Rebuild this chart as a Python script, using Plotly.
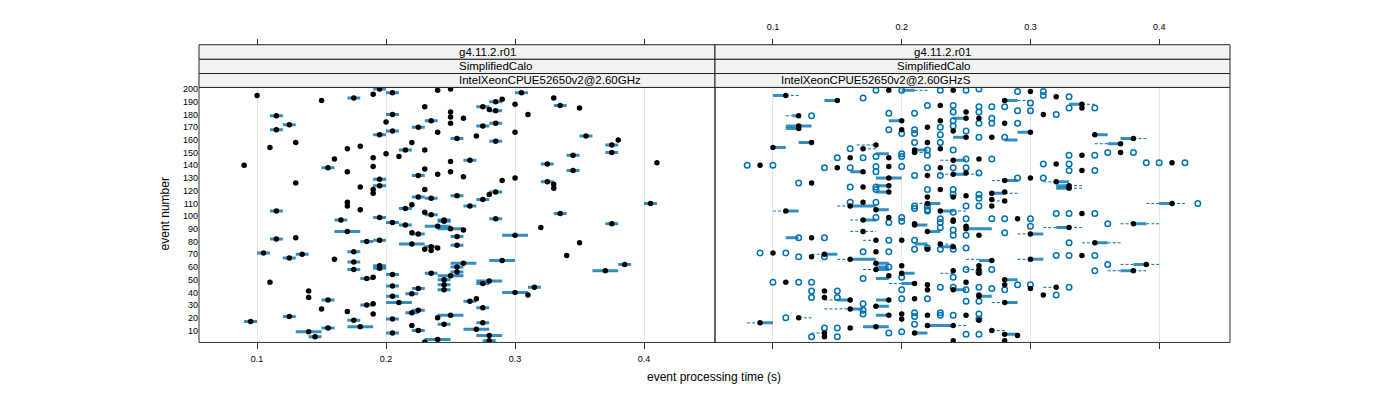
import plotly.graph_objects as go

# ---------------- left panel: IntelXeonCPUE52650v2@2.60GHz ----------------
# event number, mean processing time (s), half width of the blue bar (0 = none)
left_event = [195, 191, 193, 196, 200, 197, 199, 179, 172, 168, 158, 154, 180, 186, 174, 175, 170, 167, 166, 164,
              158, 155, 153, 152, 147, 152, 149, 146, 145, 140, 138, 139, 135, 137, 133, 132, 126, 129, 124, 123,
              121, 118, 121, 115, 114, 111, 108, 109, 106, 105, 104, 103, 101, 97, 99,
              200, 197, 193, 190, 192, 186, 184, 183, 188, 187, 185, 180, 182, 178, 177, 173, 173, 171, 166, 163,
              161, 163, 159, 160, 156, 150, 148, 143, 144, 141, 142, 136, 135, 131, 128, 130, 127, 125, 122, 116,
              117, 119, 113, 108, 110, 102, 97, 98,
              95, 93, 87, 86, 88, 82, 83, 80, 81, 78, 71, 67, 70, 66, 72, 64, 58, 61, 59, 74,
              76, 73, 75, 48, 51, 52, 54, 55, 45, 39, 43, 41, 36, 34, 37, 32, 27, 25, 30, 31,
              23, 24, 26, 17, 21, 18, 19, 20, 9, 5, 12, 13, 14, 10, 8, 1,
              96, 94, 92, 90, 89, 91, 85, 84, 77, 79, 69, 63, 65, 60, 56, 53, 62, 57, 50, 46,
              42, 49, 47, 44, 40, 38, 35, 33, 28, 22, 15, 16, 11, 3, 6, 2]
left_time = [0.100, 0.150, 0.175, 0.190, 0.195, 0.205, 0.240, 0.115, 0.125, 0.115, 0.130, 0.110, 0.205, 0.230, 0.200, 0.235, 0.225, 0.205, 0.240, 0.195,
             0.220, 0.180, 0.170, 0.215, 0.210, 0.230, 0.200, 0.190, 0.160, 0.090, 0.155, 0.190, 0.170, 0.230, 0.240, 0.225, 0.130, 0.195, 0.195, 0.180,
             0.190, 0.190, 0.230, 0.225, 0.235, 0.170, 0.170, 0.220, 0.215, 0.180, 0.115, 0.230, 0.235, 0.165, 0.195,
             0.250, 0.305, 0.330, 0.285, 0.290, 0.275, 0.280, 0.285, 0.300, 0.335, 0.350, 0.310, 0.250, 0.250, 0.260, 0.250, 0.285, 0.275, 0.300, 0.355,
             0.255, 0.270, 0.285, 0.380, 0.375, 0.375, 0.345, 0.250, 0.265, 0.325, 0.410, 0.345, 0.250, 0.260, 0.290, 0.300, 0.325, 0.330, 0.330, 0.255,
             0.280, 0.285, 0.275, 0.265, 0.405, 0.335, 0.245, 0.285,
             0.205, 0.215, 0.220, 0.225, 0.170, 0.115, 0.130, 0.185, 0.195, 0.220, 0.105, 0.125, 0.135, 0.160, 0.175, 0.175, 0.175, 0.195, 0.195, 0.230,
             0.235, 0.235, 0.240, 0.110, 0.185, 0.190, 0.205, 0.235, 0.205, 0.220, 0.225, 0.140, 0.140, 0.155, 0.205, 0.210, 0.150, 0.170, 0.185, 0.190,
             0.190, 0.220, 0.225, 0.095, 0.125, 0.175, 0.205, 0.240, 0.140, 0.145, 0.155, 0.180, 0.220, 0.225, 0.205, 0.230,
             0.245, 0.375, 0.240, 0.250, 0.260, 0.320, 0.300, 0.255, 0.255, 0.350, 0.340, 0.260, 0.290, 0.255, 0.255, 0.250, 0.385, 0.370, 0.245, 0.245,
             0.245, 0.280, 0.275, 0.315, 0.300, 0.310, 0.270, 0.265, 0.275, 0.250, 0.245, 0.275, 0.270, 0.240, 0.280, 0.280]
left_half = [0, 0, .005, 0, .005, .005, 0, .005, .005, .005, 0, 0, .005, 0, 0, .005, .005, .005, 0, .005,
             0, 0, 0, .005, 0, 0, 0, 0, 0, 0, .005, 0, 0, 0, 0, .005, 0, .005, .005, 0,
             0, 0, 0, .005, .005, 0, 0, 0, .005, 0, .005, 0, .005, .005, .005,
             0, .005, 0, .005, 0, .005, 0, .005, 0, .005, 0, 0, 0, 0, 0, 0, .005, .005, 0, .005,
             .005, 0, .005, 0, .005, .005, .005, 0, .005, .005, 0, .005, 0, 0, 0, 0, .005, 0, 0, .005,
             0, .005, .005, .005, .005, .005, .005, .005,
             .005, .005, 0, .005, .010, .005, 0, .005, .005, .010, .005, .005, .005, 0, .005, .005, .005, .005, .005, 0,
             .005, 0, 0, 0, .005, 0, .005, .005, .005, .005, .005, 0, 0, .005, .005, .010, 0, 0, .005, 0,
             0, .005, .005, .005, .005, .005, .005, 0, .010, .005, .005, .010, 0, .005, .005, 0,
             .005, .005, .010, .010, 0, 0, .010, .005, .005, 0, 0, .010, .010, .005, .005, .010, .005, .010, .005, .005,
             .005, .010, .005, .005, .010, 0, 0, .005, .005, .010, .005, .005, .010, .010, .010, .005]

# ---------------- right panel: IntelXeonCPUE52650v2@2.60GHzS ----------------
# medians (black dots)
med_event = [195, 191, 179, 171, 169, 158, 154, 153, 156, 146, 140, 138, 135, 126, 123, 111, 108, 104, 105,
             194, 188, 185, 180, 164, 161, 157, 150, 148, 141, 142, 136, 127, 124, 122, 110, 102,
             97, 88, 83, 81, 71, 68, 70, 66, 72, 58, 63, 48, 41, 36, 34, 27, 29, 20, 16, 12, 13, 5, 8,
             91, 94, 79, 69, 62, 57, 44, 38,
             199, 199, 198, 191, 187, 182, 177, 177, 175, 175, 173, 170, 168, 167, 166, 162, 162, 158, 152, 153,
             150, 146, 144, 145, 139, 138, 132, 133, 134, 130, 128, 130, 124, 119, 121, 118, 119, 115, 115, 116,
             113, 112, 110, 108, 104, 99, 94, 93, 97, 96, 92, 98, 88, 90, 85, 86, 81, 78, 76, 74,
             65, 66, 61, 61, 58, 53, 55, 57, 55, 50, 43, 47, 46, 48, 46, 42, 42, 38, 34, 35,
             37, 32, 22, 23, 19, 22, 22, 14, 14, 18, 8, 10, 7, 6, 2, 2]
med_time = [.11, .15, .12, .12, .12, .13, .10, .17, .18, .16, .09, .15, .17, .13, .17, .17, .16, .11, .18,
            .32, .34, .34, .31, .35, .38, .37, .37, .34, .32, .41, .34, .32, .33, .33, .41, .34,
            .17, .17, .13, .18, .10, .13, .14, .16, .18, .18, .18, .11, .14, .14, .16, .16, .18, .12, .09, .16, .18, .14, .14,
            .33, .38, .35, .34, .39, .38, .32, .31,
            .19, .24, .30, .28, .23, .25, .25, .26, .20, .23, .28, .22, .20, .24, .30, .25, .27, .22, .21, .23,
            .21, .19, .24, .26, .19, .23, .22, .24, .25, .19, .28, .30, .19, .19, .23, .27, .28, .22, .24, .25,
            .27, .28, .22, .27, .23, .19, .21, .21, .24, .24, .25, .29, .22, .25, .26, .30, .20, .23, .24, .22,
            .27, .30, .20, .26, .26, .19, .20, .24, .26, .28, .30, .21, .22, .25, .28, .22, .24, .26, .19, .21,
            .26, .28, .19, .20, .20, .22, .25, .22, .24, .26, .21, .27, .28, .29, .24, .28]

# boxes (solid blue)
box_event = [195, 191, 179, 171, 169, 158, 154, 135, 108, 104, 105,
             188, 164, 161, 157, 127, 124, 122, 110,
             97, 83, 70, 66, 58, 63, 51, 34, 27, 29, 16, 13,
             91, 94, 79, 62, 57, 86,
             199, 191, 177, 175, 166, 162, 160, 152, 149, 144, 133, 130, 128, 124, 119, 118, 110, 104, 93, 88,
             90, 78, 76, 65, 66, 60, 55, 50, 47, 42, 37, 32, 34, 22, 14, 8, 7]
box_lo = [.10, .14, .115, .11, .11, .12, .10, .16, .16, .11, .18,
          .33, .35, .37, .36, .32, .32, .32, .40,
          .17, .11, .14, .16, .18, .18, .18, .15, .16, .18, .09, .17,
          .32, .38, .35, .38, .37, .30,
          .20, .28, .24, .19, .29, .24, .28, .21, .18, .24, .24, .18, .28, .18, .18, .27, .22, .23, .21, .22,
          .25, .21, .23, .26, .30, .18, .20, .28, .20, .24, .26, .28, .18, .18, .22, .21, .28]
box_hi = [.11, .15, .12, .13, .12, .13, .11, .17, .18, .12, .19,
          .34, .36, .38, .37, .33, .33, .33, .41,
          .18, .12, .15, .18, .19, .19, .19, .16, .17, .19, .10, .19,
          .33, .39, .36, .39, .38, .31,
          .21, .29, .25, .20, .30, .25, .29, .22, .19, .25, .25, .20, .29, .19, .19, .28, .23, .24, .22, .23,
          .27, .22, .24, .27, .31, .19, .21, .29, .21, .25, .27, .29, .19, .19, .24, .22, .29]

# whiskers (dashed blue)
whisk_event = [195, 179, 153, 156, 108, 104,
               188, 161, 157, 127, 124, 122, 110, 110,
               97, 88, 81, 70, 66, 58, 34, 27, 20, 16, 8,
               91, 91, 94, 94, 79, 79, 62, 62, 57, 57, 44,
               199, 191, 150, 144, 133, 133, 128, 118, 112, 110, 104, 86, 78, 66, 66, 58, 55, 47, 32, 14, 10]
whisk_lo = [.11, .11, .17, .165, .15, .10,
            .34, .38, .35, .31, .33, .33, .39, .41,
            .16, .16, .17, .13, .15, .17, .14, .14, .12, .08, .13,
            .31, .33, .37, .39, .34, .36, .37, .39, .36, .38, .31,
            .21, .29, .21, .23, .23, .25, .27, .28, .27, .21, .24, .29, .23, .25, .29, .25, .23, .19, .27, .24, .27]
whisk_hi = [.12, .115, .18, .18, .16, .11,
            .35, .39, .36, .32, .34, .34, .40, .42,
            .17, .18, .18, .14, .16, .18, .15, .16, .13, .09, .14,
            .32, .34, .38, .40, .35, .37, .38, .40, .37, .39, .32,
            .22, .30, .22, .24, .24, .26, .28, .29, .28, .22, .25, .30, .24, .26, .30, .26, .24, .20, .28, .25, .28]

# outliers (open blue circles)
out_event = [199, 193, 179, 153, 146, 146, 147, 140, 140, 138, 138, 139, 135, 126, 123, 123, 121, 111, 111,
             198, 195, 194, 185, 185, 180, 150, 150, 148, 148, 141, 141, 142, 142, 142, 136, 136, 130, 110, 102,
             102, 102,
             99, 83, 83, 71, 71, 68, 68, 72, 51, 48, 48, 48, 41, 41, 36, 36, 31, 23, 26, 20, 12, 12, 5, 5,
             94, 79, 69, 69, 69, 62, 57, 44, 38,
             199, 199, 199, 200, 198, 189, 187, 187, 186, 186, 186, 183, 183, 181, 181, 182, 182, 177, 175, 173,
             173, 173, 170, 171, 168, 168, 167, 165, 165, 164, 162, 162, 158, 158, 152, 152, 149, 147, 148, 145,
             145, 139, 138, 138, 138, 132, 132, 134, 130, 121, 121, 117, 117, 114, 108, 106, 108, 105, 108, 108,
             103, 104, 99, 95, 96, 98, 95, 98, 98, 98, 98, 92, 91, 89, 85, 85, 87, 81, 81, 75,
             74, 74, 75, 74, 72, 60, 58, 58, 56, 52, 52, 46, 46, 44, 44, 44, 42, 42, 43, 42,
             35, 35, 33, 33, 24, 24, 22, 22, 21, 23, 15, 19, 8, 9, 7, 7]
out_time = [.18, .17, .13, .16, .15, .17, .18, .08, .10, .14, .16, .18, .18, .12, .16, .18, .18, .16, .18,
            .31, .31, .33, .33, .35, .32, .36, .38, .33, .35, .31, .33, .39, .40, .42, .33, .35, .31, .43, .32,
            .33, .35,
            .18, .12, .14, .09, .11, .12, .14, .17, .17, .10, .12, .13, .13, .15, .13, .15, .17, .17, .17, .11, .14, .15, .13, .15,
            .36, .33, .32, .33, .35, .36, .35, .33, .32,
            .20, .23, .25, .26, .29, .30, .22, .24, .26, .27, .28, .29, .30, .19, .21, .24, .26, .27, .24, .26,
            .27, .29, .23, .24, .19, .21, .25, .20, .21, .23, .26, .28, .21, .23, .22, .24, .20, .20, .22, .25,
            .27, .20, .22, .24, .25, .21, .23, .26, .29, .22, .24, .24, .26, .26, .21, .21, .22, .22, .25, .26,
            .24, .22, .20, .19, .20, .23, .23, .25, .27, .28, .30, .30, .23, .24, .24, .25, .28, .19, .21, .22,
            .23, .24, .25, .21, .19, .19, .25, .27, .26, .20, .24, .29, .30, .23, .24, .26, .20, .25, .27, .28,
            .20, .22, .25, .26, .21, .23, .23, .24, .21, .26, .21, .26, .19, .20, .25, .26]

tick_vals = [0.1, 0.2, 0.3, 0.4]
event_ticks = list(range(10, 201, 10))
strip_labels_left = ["g4.11.2.r01", "SimplifiedCalo", "IntelXeonCPUE52650v2@2.60GHz"]
strip_labels_right = ["g4.11.2.r01", "SimplifiedCalo", "IntelXeonCPUE52650v2@2.60GHzS"]

BLUE = '#0072B2'
FONT = 'Liberation Sans, Arial, sans-serif'
# the page body has an 8px margin, so the figure is a bit smaller and positions are shifted
OFF = 8
W, H = 1400 - OFF, 400 - OFF


def px(x):
    return (x - OFF) / W


def py(y):
    return 1 - (y - OFF) / H


def segments(ev, lo, hi):
    xs, ys = [], []
    for e, a, b in zip(ev, lo, hi):
        xs += [a, b, None]
        ys += [e, e, None]
    return xs, ys


fig = go.Figure()

# left panel bars + dots
bl, bh, be = [], [], []
for e, t, h in zip(left_event, left_time, left_half):
    if h > 0:
        be.append(e)
        bl.append(t - h)
        bh.append(t + h)
sx, sy = segments(be, bl, bh)
fig.add_trace(go.Scatter(x=sx, y=sy, mode='lines', xaxis='x', yaxis='y',
                         line=dict(color='rgba(0,114,178,0.8)', width=3)))
fig.add_trace(go.Scatter(x=left_time, y=left_event, mode='markers', xaxis='x', yaxis='y',
                         marker=dict(color='black', size=5.5)))

# right panel
sx, sy = segments(whisk_event, whisk_lo, whisk_hi)
fig.add_trace(go.Scatter(x=sx, y=sy, mode='lines', xaxis='x2', yaxis='y',
                         line=dict(color=BLUE, width=1, dash='3px,2px')))
sx, sy = segments(box_event, box_lo, box_hi)
fig.add_trace(go.Scatter(x=sx, y=sy, mode='lines', xaxis='x2', yaxis='y',
                         line=dict(color='rgba(0,114,178,0.8)', width=3)))
fig.add_trace(go.Scatter(x=out_time, y=out_event, mode='markers', xaxis='x2', yaxis='y',
                         marker=dict(symbol='circle-open', color=BLUE, size=5.5, line=dict(width=1.5))))
fig.add_trace(go.Scatter(x=med_time, y=med_event, mode='markers', xaxis='x2', yaxis='y',
                         marker=dict(color='black', size=5.5)))

# dummy traces so the top axes exist
fig.add_trace(go.Scatter(x=[None], y=[None], xaxis='x3', yaxis='y'))
fig.add_trace(go.Scatter(x=[None], y=[None], xaxis='x4', yaxis='y'))

left_dom = [px(199), px(715)]
right_dom = [px(715), px(1230)]
xrange_ = [0.055, 0.455]
axis_common = dict(range=xrange_, tickvals=tick_vals, ticks='outside', ticklen=6, tickcolor='#333',
                   tickfont=dict(size=9, family=FONT, color='black'), showline=False, zeroline=False)

fig.update_layout(
    width=W, height=H, margin=dict(l=0, r=0, t=0, b=0),
    paper_bgcolor='white', plot_bgcolor='white', showlegend=False,
    font=dict(family=FONT, color='black'),
    xaxis=dict(domain=left_dom, anchor='y', showgrid=True, gridcolor='#e6e6e6', gridwidth=1,
               ticklabelstandoff=2, **axis_common),
    xaxis2=dict(domain=right_dom, anchor='y', showgrid=True, gridcolor='#e6e6e6', gridwidth=1,
                showticklabels=False, **axis_common),
    xaxis3=dict(overlaying='x', anchor='free', position=py(42), side='top', showgrid=False,
                showticklabels=False, **axis_common),
    xaxis4=dict(overlaying='x2', anchor='free', position=py(42), side='top', showgrid=False,
                ticklabelstandoff=5, **axis_common),
    yaxis=dict(domain=[py(342), py(85)], range=[0.6, 201.3], tickvals=event_ticks, ticks='',
               tickfont=dict(size=9, family=FONT), showgrid=False, zeroline=False, showline=False),
)

# panel borders
for x0, x1 in [(199, 715), (715, 1230)]:
    fig.add_shape(type='rect', xref='paper', yref='paper', x0=px(x0), x1=px(x1), y0=py(342), y1=py(85),
                  line=dict(color='#333', width=1), fillcolor='rgba(0,0,0,0)', layer='above')

# strips
strip_edges = [42, 56.7, 71, 85]
for (x0, x1), labels in [((199, 715), strip_labels_left), ((715, 1230), strip_labels_right)]:
    for i, lab in enumerate(labels):
        fig.add_shape(type='rect', xref='paper', yref='paper', x0=px(x0), x1=px(x1),
                      y0=py(strip_edges[i + 1]), y1=py(strip_edges[i]),
                      line=dict(color='#222', width=1), fillcolor='#f2f2f2', layer='above')
        fig.add_annotation(x=px((x0 + x1) / 2), y=py((strip_edges[i] + strip_edges[i + 1]) / 2),
                           xref='paper', yref='paper', text=lab, showarrow=False,
                           font=dict(size=11.5, family=FONT, color='black'), yanchor='middle')

fig.add_annotation(x=px(714), y=py(377), xref='paper', yref='paper', text='event processing time (s)',
                   showarrow=False, font=dict(size=12, family=FONT), yanchor='middle')
fig.add_annotation(x=px(165), y=py(213), xref='paper', yref='paper', text='event number',
                   showarrow=False, textangle=-90, font=dict(size=12, family=FONT), xanchor='center')

fig.write_html("out.html")
